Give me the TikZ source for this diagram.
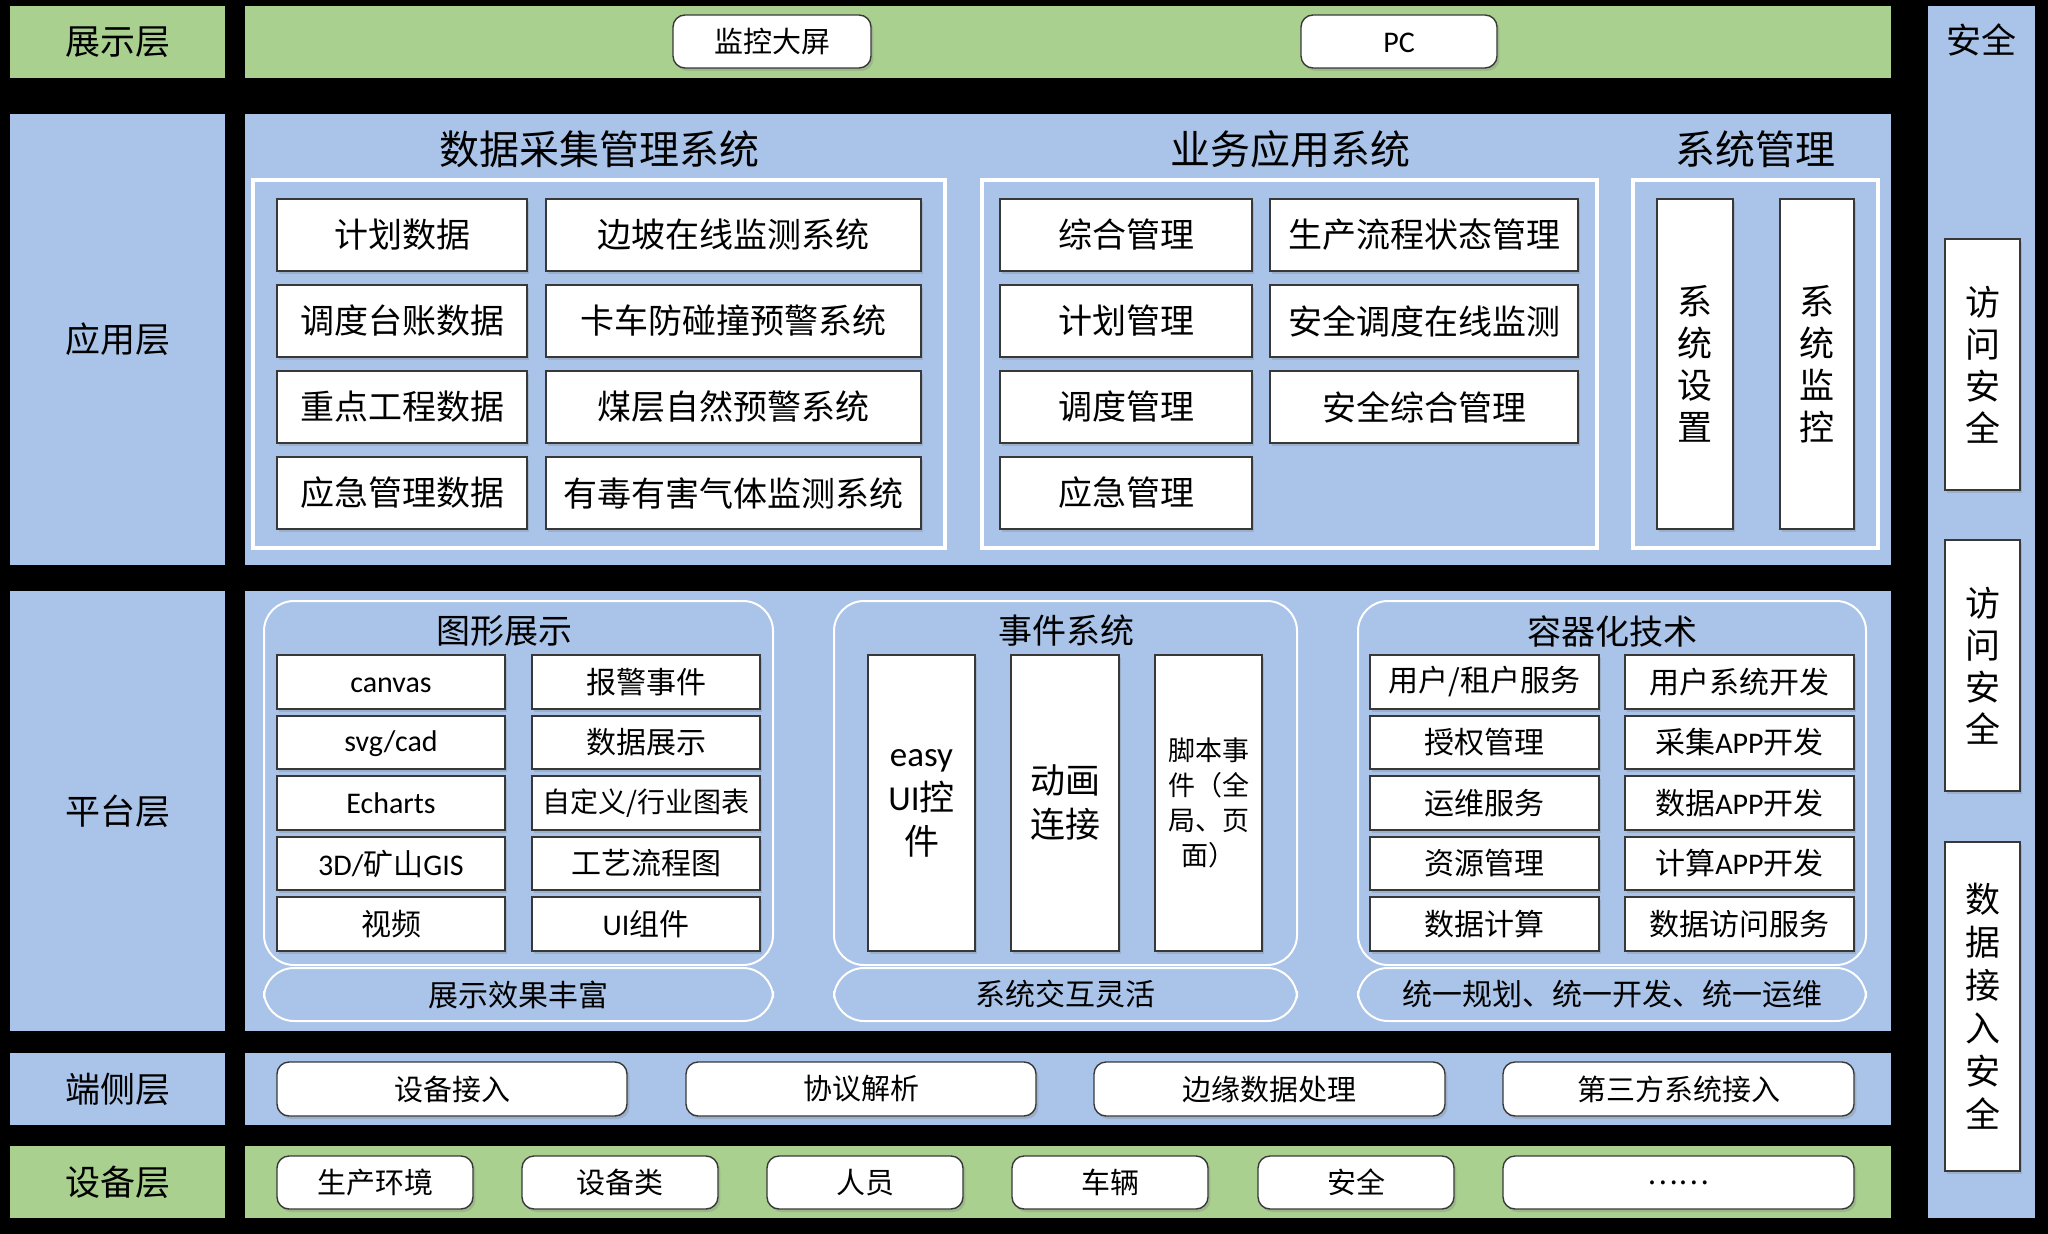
\documentclass[tikz,border=0pt]{standalone}
\usepackage{fontspec}
\setmainfont{Noto Sans CJK SC}
\newfontfamily\lat{Carlito}
\usetikzlibrary{shadows}
\definecolor{gr}{HTML}{A9D08E}
\definecolor{bl}{HTML}{A9C4E8}
\newcommand\mybox[7]{%
  \pgfmathsetmacro\mbw{(#5)-(#3)}%
  \pgfmathsetmacro\mbh{(#6)-(#4)}%
  \node[#1,minimum width={\mbw*0.5pt},minimum height={\mbh*0.5pt}] (#2) at ({((#3)+(#5))/2},{((#4)+(#6))/2}) {#7};}
\newcommand\cjkph{\vphantom{\rmfamily 国}}
\begin{document}
\begin{tikzpicture}[x=0.5pt,y=-0.5pt,
  band/.style={inner sep=0pt,outer sep=0pt,draw=none,align=center,font=\fontsize{17.5}{21}\selectfont},
  cell/.style={draw=black!78,line width=0.7pt,fill=white,inner sep=0pt,align=center,
     drop shadow={shadow xshift=1.2pt,shadow yshift=-1.5pt,opacity=0.3},font=\fontsize{17}{20}\selectfont},
  pcell/.style={cell,font=\fontsize{15}{18}\selectfont},
  rcell/.style={cell,rounded corners=6pt,font=\fontsize{14.5}{17}\selectfont},
  vcell/.style={cell,font=\fontsize{17.5}{21}\selectfont},
  frm/.style={draw=white,line width=1.8pt,inner sep=0pt},
  grp/.style={draw=white,line width=1pt,rounded corners=15pt,inner sep=0pt,align=center,font=\fontsize{15}{18}\selectfont},
  ttl/.style={font=\fontsize{20}{24}\selectfont,inner sep=0pt},
  gttl/.style={font=\fontsize{17}{20}\selectfont,inner sep=0pt}]
\useasboundingbox (0,0) rectangle (2048,1234);
\fill[black] (0,0) rectangle (2048,1234);
% layer labels
\mybox{band,fill=gr}{L1}{10}{6}{225}{78}{展示层}
\mybox{band,fill=bl}{L2}{10}{114}{225}{565}{应用层}
\mybox{band,fill=bl}{L3}{10}{591}{225}{1031}{平台层}
\mybox{band,fill=bl}{L4}{10}{1053}{225}{1125}{端侧层}
\mybox{band,fill=gr}{L5}{10}{1146}{225}{1218}{设备层}
% main bands
\mybox{band,fill=gr}{B1}{245}{6}{1891}{78}{}
\mybox{band,fill=bl}{B2}{245}{114}{1891}{565}{}
\mybox{band,fill=bl}{B3}{245}{591}{1891}{1031}{}
\mybox{band,fill=bl}{B4}{245}{1053}{1891}{1125}{}
\mybox{band,fill=gr}{B5}{245}{1146}{1891}{1218}{}
% security column
\mybox{band,fill=bl}{S}{1928}{6}{2035}{1218}{}
\node[band] (St) at (1981,40) {安全};
\mybox{vcell}{S1}{1945}{239}{2020}{490}{访\\问\\安\\全}
\mybox{vcell}{S2}{1945}{540}{2020}{791}{访\\问\\安\\全}
\mybox{vcell,font=\fontsize{17.5}{21.5}\selectfont}{S3}{1945}{842}{2020}{1171}{数\\据\\接\\入\\安\\全}
% presentation
\mybox{rcell}{P1}{673}{15}{871}{68}{监控大屏}
\mybox{rcell,font=\fontsize{15}{18}\lat}{P2}{1301}{15}{1497}{68}{PC\cjkph}
% application layer
\node[ttl] (T1) at (599,149) {数据采集管理系统};
\node[ttl] (T2) at (1290,149) {业务应用系统};
\node[ttl] (T3) at (1755,149) {系统管理};
\mybox{frm}{F1}{253}{180}{945}{548}{}
\mybox{frm}{F2}{982}{180}{1597}{548}{}
\mybox{frm}{F3}{1633}{180}{1878}{548}{}
\mybox{cell}{a11}{277}{199}{527}{271}{计划数据}
\mybox{cell}{a12}{277}{285}{527}{357}{调度台账数据}
\mybox{cell}{a13}{277}{371}{527}{443}{重点工程数据}
\mybox{cell}{a14}{277}{457}{527}{529}{应急管理数据}
\mybox{cell}{a21}{546}{199}{921}{271}{边坡在线监测系统}
\mybox{cell}{a22}{546}{285}{921}{357}{卡车防碰撞预警系统}
\mybox{cell}{a23}{546}{371}{921}{443}{煤层自然预警系统}
\mybox{cell}{a24}{546}{457}{921}{529}{有毒有害气体监测系统}
\mybox{cell}{b11}{1000}{199}{1252}{271}{综合管理}
\mybox{cell}{b12}{1000}{285}{1252}{357}{计划管理}
\mybox{cell}{b13}{1000}{371}{1252}{443}{调度管理}
\mybox{cell}{b14}{1000}{457}{1252}{529}{应急管理}
\mybox{cell}{b21}{1270}{199}{1578}{271}{生产流程状态管理}
\mybox{cell}{b22}{1270}{285}{1578}{357}{安全调度在线监测}
\mybox{cell}{b23}{1270}{371}{1578}{443}{安全综合管理}
\mybox{vcell}{c1}{1657}{199}{1733}{529}{系\\统\\设\\置}
\mybox{vcell}{c2}{1780}{199}{1854}{529}{系\\统\\监\\控}
% platform layer
\mybox{grp}{G1}{264}{601}{773}{965}{}
\mybox{grp}{G2}{834}{601}{1297}{965}{}
\mybox{grp}{G3}{1358}{601}{1866}{965}{}
\mybox{grp}{H1}{264}{968}{773}{1021}{展示效果丰富}
\mybox{grp}{H2}{834}{968}{1297}{1021}{系统交互灵活}
\mybox{grp}{H3}{1358}{968}{1866}{1021}{统一规划、统一开发、统一运维}
\node[gttl] (GT1) at (504,631) {图形展示};
\node[gttl] (GT2) at (1066,631) {事件系统};
\node[gttl] (GT3) at (1612,631) {容器化技术};
\mybox{pcell,font=\fontsize{15}{18}\lat}{d11}{277}{655}{505}{709}{canvas\cjkph}
\mybox{pcell,font=\fontsize{15}{18}\lat}{d12}{277}{716}{505}{769}{svg/cad\cjkph}
\mybox{pcell,font=\fontsize{15}{18}\lat}{d13}{277}{776}{505}{830}{Echarts\cjkph}
\mybox{pcell}{d14}{277}{837}{505}{890}{{\lat 3D/}矿山{\lat GIS}}
\mybox{pcell}{d15}{277}{897}{505}{951}{视频}
\mybox{pcell}{d21}{532}{655}{760}{709}{报警事件}
\mybox{pcell}{d22}{532}{716}{760}{769}{数据展示}
\mybox{pcell,font=\fontsize{14}{17}\selectfont}{d23}{532}{776}{760}{830}{自定义/行业图表}
\mybox{pcell}{d24}{532}{837}{760}{890}{工艺流程图}
\mybox{pcell}{d25}{532}{897}{760}{951}{{\lat UI}组件}
\mybox{vcell,font=\fontsize{17.5}{22}\selectfont}{e1}{868}{655}{975}{951}{{\lat easy}\\{\lat UI}控\\件}
\mybox{vcell,font=\fontsize{17.5}{22}\selectfont}{e2}{1011}{655}{1119}{951}{动画\\连接}
\mybox{vcell,font=\fontsize{13.5}{17.5}\selectfont}{e3}{1155}{655}{1262}{951}{脚本事\\件（全\\局、页\\面）}
\mybox{pcell}{f11}{1370}{655}{1599}{709}{用户/租户服务}
\mybox{pcell}{f12}{1370}{716}{1599}{769}{授权管理}
\mybox{pcell}{f13}{1370}{776}{1599}{830}{运维服务}
\mybox{pcell}{f14}{1370}{837}{1599}{890}{资源管理}
\mybox{pcell}{f15}{1370}{897}{1599}{951}{数据计算}
\mybox{pcell}{f21}{1625}{655}{1854}{709}{用户系统开发}
\mybox{pcell}{f22}{1625}{716}{1854}{769}{采集{\lat APP}开发}
\mybox{pcell}{f23}{1625}{776}{1854}{830}{数据{\lat APP}开发}
\mybox{pcell}{f24}{1625}{837}{1854}{890}{计算{\lat APP}开发}
\mybox{pcell}{f25}{1625}{897}{1854}{951}{数据访问服务}
% edge layer
\mybox{rcell}{g1}{277}{1062}{627}{1116}{设备接入}
\mybox{rcell}{g2}{686}{1062}{1036}{1116}{协议解析}
\mybox{rcell}{g3}{1094}{1062}{1445}{1116}{边缘数据处理}
\mybox{rcell}{g4}{1503}{1062}{1854}{1116}{第三方系统接入}
% device layer
\mybox{rcell}{h1}{277}{1156}{473}{1209}{生产环境}
\mybox{rcell}{h2}{522}{1156}{718}{1209}{设备类}
\mybox{rcell}{h3}{767}{1156}{963}{1209}{人员}
\mybox{rcell}{h4}{1012}{1156}{1208}{1209}{车辆}
\mybox{rcell}{h5}{1258}{1156}{1454}{1209}{安全}
\mybox{rcell}{h6}{1503}{1156}{1854}{1209}{……}
\end{tikzpicture}
\end{document}
